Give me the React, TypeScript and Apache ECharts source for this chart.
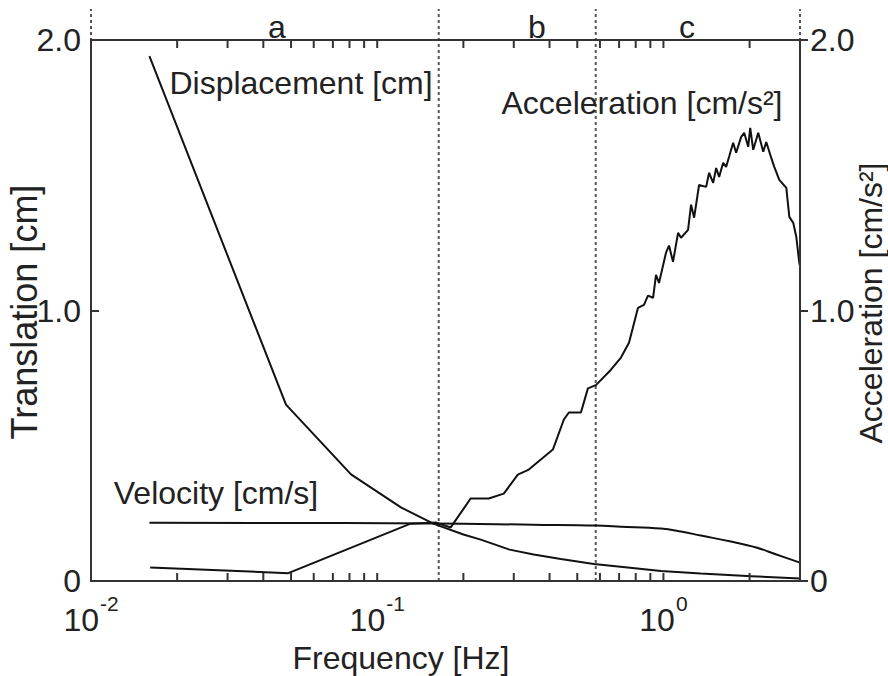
import React, { useEffect, useRef } from "react";
import * as echarts from "echarts";

// ---- data (frequency in Hz) ----
const dispFreq = [0.016, 0.048, 0.081, 0.121, 0.157, 0.2, 0.23, 0.29, 0.352, 0.438, 0.571, 0.75, 0.98, 1.35, 2.03, 3.0];
const dispVal = [1.94, 0.652, 0.394, 0.272, 0.212, 0.172, 0.153, 0.116, 0.098, 0.081, 0.063, 0.05, 0.037, 0.028, 0.018, 0.009];

const velFreq = [0.016, 0.16, 0.35, 0.58, 0.71, 0.98, 1.15, 1.35, 1.72, 2.11, 2.48, 3.0];
const velVal = [0.215, 0.213, 0.208, 0.205, 0.201, 0.194, 0.183, 0.168, 0.146, 0.124, 0.098, 0.068];

const accFreq = [
  0.0161, 0.0489, 0.1308, 0.16, 0.1806, 0.2121, 0.2452, 0.2768, 0.3099, 0.3385,
  0.4109, 0.4489, 0.4673, 0.5148, 0.5447, 0.5809, 0.6555, 0.7105, 0.758, 0.815,
  0.855, 0.883, 0.92, 0.942, 0.965, 1.021, 1.046, 1.08, 1.125, 1.152,
  1.219, 1.249, 1.28, 1.332, 1.41, 1.444, 1.492, 1.528, 1.565, 1.617,
  1.656, 1.697, 1.752, 1.795, 1.869, 1.915, 1.978, 2.01, 2.059, 2.144,
  2.232, 2.287, 2.381, 2.439, 2.54, 2.687, 2.753, 2.842, 2.912, 2.983, 3.0,
];
const accVal = [
  0.05, 0.029, 0.212, 0.216, 0.198, 0.305, 0.305, 0.323, 0.393, 0.412,
  0.486, 0.597, 0.623, 0.623, 0.712, 0.724, 0.781, 0.826, 0.881, 1.01,
  1.021, 1.055, 1.047, 1.132, 1.102, 1.214, 1.24, 1.18, 1.287, 1.269,
  1.298, 1.391, 1.343, 1.464, 1.457, 1.509, 1.472, 1.527, 1.494, 1.546,
  1.531, 1.569, 1.62, 1.583, 1.642, 1.657, 1.605, 1.675, 1.594, 1.657,
  1.587, 1.623, 1.564, 1.531, 1.483, 1.453, 1.346, 1.324, 1.272, 1.176, 1.165,
];

const xMajorLabels = [0.01, 0.1, 1];
const xTickValues = [
  0.02, 0.03, 0.04, 0.05, 0.06, 0.07, 0.08, 0.09, 0.1,
  0.2, 0.3, 0.4, 0.5, 0.6, 0.7, 0.8, 0.9, 1, 2,
];
const yMin = 0;
const yMax = 2;
const regionBounds = [0.01, 0.164, 0.58, 3];
const regionNames = ["a", "b", "c"];

const FONT = "'Liberation Sans', Arial, Helvetica, sans-serif";
const TXT = "#222";
const AX = "#333";

const zip = (xs: number[], ys: number[]) => xs.map((x, i) => [x, ys[i]]);

export default function App() {
  const ref = useRef<HTMLDivElement>(null);
  useEffect(() => {
    const chart = echarts.init(ref.current!, null, { renderer: "svg" });
    const xCommon = (pos: "top" | "bottom") => ({
      type: "log" as const,
      logBase: 10,
      min: 0.01,
      max: 3,
      position: pos,
      z: 5,
      axisLine: { show: true, onZero: false, lineStyle: { color: AX, width: 2 } },
      axisTick: { show: false },
      splitLine: { show: false },
      minorTick: { show: false },
    });
    const yCommon = (pos: "left" | "right", inside: boolean) => ({
      type: "value" as const,
      min: yMin,
      max: yMax,
      interval: 1,
      position: pos,
      z: 5,
      axisLine: { show: true, lineStyle: { color: AX, width: 2 } },
      axisTick: { show: true, inside, length: 8, lineStyle: { color: AX, width: 2 } },
      axisLabel: {
        fontSize: 32,
        fontFamily: FONT,
        color: TXT,
        margin: 10,
        formatter: (v: number) => (v === 0 ? "0" : v.toFixed(1)),
      },
      splitLine: { show: false },
    });
    const txt = (text: string, x: number, y: number, rotation = 0, size = 32) => ({
      type: "text",
      x,
      y,
      rotation,
      z: 20,
      style: {
        text,
        fontSize: size,
        fontFamily: FONT,
        fill: TXT,
        align: "center",
        verticalAlign: "middle",
        textAlign: "center",
        textVerticalAlign: "middle",
      },
    });
    const baseGraphic: any[] = [
      txt("Displacement [cm]", 301, 83),
      txt("Acceleration [cm/s²]", 642, 103),
      txt("Velocity [cm/s]", 216, 493),
      txt(regionNames[0], 277, 27),
      txt(regionNames[1], 537, 27),
      txt(regionNames[2], 687, 27),
      txt("Translation [cm]", 24, 312, Math.PI / 2, 36),
      txt("Acceleration [cm/s²]", 871, 303, Math.PI / 2),
      txt("Frequency [Hz]", 401, 658),
    ];
    const lineStyle = { color: "#111", width: 2 };
    chart.setOption({
      animation: false,
      backgroundColor: "#fff",
      grid: { left: 91, right: 88, top: 40, bottom: 95, containLabel: false },
      xAxis: [
        {
          ...xCommon("bottom"),
          axisLabel: {
            customValues: xMajorLabels,
            margin: 12,
            formatter: (v: number) => `{b|10}{s|${Math.round(Math.log10(v))}}`,
            rich: {
              b: { fontSize: 32, fontFamily: FONT, color: TXT, verticalAlign: "bottom" },
              s: { fontSize: 21, fontFamily: FONT, color: TXT, verticalAlign: "bottom", padding: [0, 0, 22, 1] },
            },
          },
        },
        { ...xCommon("top"), axisLabel: { show: false } },
      ],
      yAxis: [yCommon("left", true), yCommon("right", false)],
      series: [
        {
          type: "custom",
          name: "regions",
          xAxisIndex: 0,
          yAxisIndex: 0,
          clip: false,
          z: 1,
          silent: true,
          data: regionBounds.map((f) => [f, 0]),
          renderItem: (params: any, api: any) => {
            const f = api.value(0);
            const pb = api.coord([f, yMin]);
            const pt = api.coord([f, yMax]);
            return {
              type: "line",
              shape: { x1: pb[0], y1: pb[1], x2: pt[0], y2: pt[1] - 31 },
              style: { stroke: "#555", lineWidth: 2, lineDash: [3, 3] },
            };
          },
        },
        { type: "line", name: "Displacement", data: zip(dispFreq, dispVal), symbol: "none", lineStyle, xAxisIndex: 0, yAxisIndex: 0, z: 3 },
        { type: "line", name: "Velocity", data: zip(velFreq, velVal), symbol: "none", smooth: 0.4, lineStyle, xAxisIndex: 0, yAxisIndex: 0, z: 3 },
        { type: "line", name: "Acceleration", data: zip(accFreq, accVal), symbol: "none", lineStyle, xAxisIndex: 0, yAxisIndex: 1, z: 3 },
      ],
      graphic: baseGraphic,
    });

    // decade ticks of the log axis (2..9 of each decade), placed through the axis scale
    try {
      const yb = chart.convertToPixel({ yAxisIndex: 0 }, yMin) as unknown as number;
      const yt = chart.convertToPixel({ yAxisIndex: 0 }, yMax) as unknown as number;
      const ticks: any[] = [];
      xTickValues.forEach((f) => {
        const x = chart.convertToPixel({ xAxisIndex: 0 }, f) as unknown as number;
        if (typeof x === "number" && isFinite(x) && typeof yb === "number" && typeof yt === "number") {
          const st = { stroke: AX, lineWidth: 2 };
          ticks.push({ type: "line", z: 30, silent: true, shape: { x1: x, y1: yb, x2: x, y2: yb - 8 }, style: st });
          ticks.push({ type: "line", z: 30, silent: true, shape: { x1: x, y1: yt, x2: x, y2: yt + 8 }, style: st });
        }
      });
      if (ticks.length) chart.setOption({ graphic: [...baseGraphic, ...ticks] });
    } catch (e) {
      // keep chart without minor ticks
    }
    return () => chart.dispose();
  }, []);
  return (
    <div
      ref={ref}
      style={{ position: "fixed", left: 0, top: 0, width: 888, height: 676, background: "#fff" }}
    />
  );
}
